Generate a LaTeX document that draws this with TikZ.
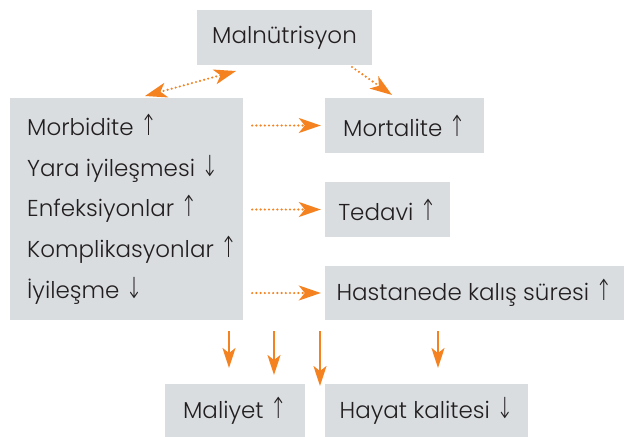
\documentclass[tikz,border=0pt]{standalone}
\usepackage{fontspec}
\IfFontExistsTF{Poppins Light}{\setmainfont{Poppins Light}}{\setmainfont{Poppins}}
\IfFontExistsTF{DejaVu Sans ExtraLight}{\newfontfamily\arrowfont{DejaVu Sans ExtraLight}}{\newfontfamily\arrowfont{DejaVu Sans}}
\usepackage{xcolor}
\definecolor{Box-gray}{RGB}{217, 221, 224}
\definecolor{Flow-orange}{RGB}{245, 130, 32}
\definecolor{Text-dark}{RGB}{35, 31, 32}
\usetikzlibrary{arrows.meta,positioning}
\newcommand{\up}{\scalebox{0.7}[1]{\arrowfont\fontsize{29}{40.7}\selectfont\char"2191}}
\newcommand{\dn}{\scalebox{0.7}[1]{\arrowfont\fontsize{29}{40.7}\selectfont\char"2193}}

\begin{document}
\begin{tikzpicture} [ % 先定义样式
            x=1pt, y=-1pt,
            font=\fontsize{23}{40.7}\selectfont, text=Text-dark,
            rec/.style = {rectangle, fill=Box-gray, inner sep=0pt, minimum height = 55pt},
            dots/.style = {draw=Flow-orange, line width=2.4pt, line cap=round, dash pattern=on 0pt off 4.2pt,
                           -{Stealth[length=22pt,width=15pt,inset=6pt,line cap=butt]}},
            dots2/.style = {dots, {Stealth[length=22pt,width=15pt,inset=6pt,line cap=butt]}-{Stealth[length=22pt,width=15pt,inset=6pt,line cap=butt]}},
            down/.style = {draw=Flow-orange, line width=2.2pt, -{Stealth[length=20pt,width=13pt,inset=5pt]}}
        ]

        \useasboundingbox (0,0) rectangle (625,437);

        % 上面矩形
        \node [rec, minimum width = 175pt] (mal) at (284.5,37.5) {Malnütrisyon};

        % 左边矩形
        \node [rec, minimum width = 233pt, minimum height = 222pt] (left) at (126.5,209) {};
        \node [anchor=north west, align=left, inner sep=0pt] (list) at (27,114)
            {Morbidite \up\\ Yara iyileşmesi \dn\\ Enfeksiyonlar \up\\ Komplikasyonlar \up\\ İyileşme \dn};

        % 右边矩形
        \node [rec, minimum width = 159pt] (mort) at (404.5,125.5) {Mortalite \up};
        \node [rec, minimum width = 125pt] (ted) at (387.5,209.5) {Tedavi \up};
        \node [rec, minimum width = 299pt, minimum height = 54pt] (hast) at (474.5,293) {Hastanede kalış süresi \up};

        % 下面矩形
        \node [rec, minimum width = 140pt, minimum height = 53pt] (maliyet) at (235,410.5) {Maliyet \up};
        \node [rec, minimum width = 203pt, minimum height = 53pt] (hayat) at (426.5,410.5) {Hayat kalitesi \dn};

        % 箭头端点
        \coordinate (dl) at (145,96);
        \coordinate (dr) at (236,71);
        \coordinate (ms) at (352,67);
        \coordinate (mt) at (392,95);
        \coordinate (a1) at (229,368);
        \coordinate (a2) at (274,375);
        \coordinate (a3) at (320,386);
        \coordinate (a4) at (438,368);

        % 连线
        \draw [dots2] (dl) -- (dr);
        \draw [dots] (ms) -- (mt);

        \draw [dots, shorten <=9pt, shorten >=4pt] (left.east |- mort) -- (mort.west);
        \draw [dots, shorten <=9pt, shorten >=4pt] (left.east |- ted) -- (ted.west);
        \draw [dots, shorten <=9pt, shorten >=4pt] (left.east |- hast) -- (hast.west);

        \draw [down, shorten <=11pt] (left.south -| a1) -- (a1);
        \draw [down, shorten <=11pt] (left.south -| a2) -- (a2);
        \draw [down, shorten <=11pt] (left.south -| a3) -- (a3);
        \draw [down, shorten <=11pt] (hast.south -| a4) -- (a4);

    \end{tikzpicture}
\end{document}
